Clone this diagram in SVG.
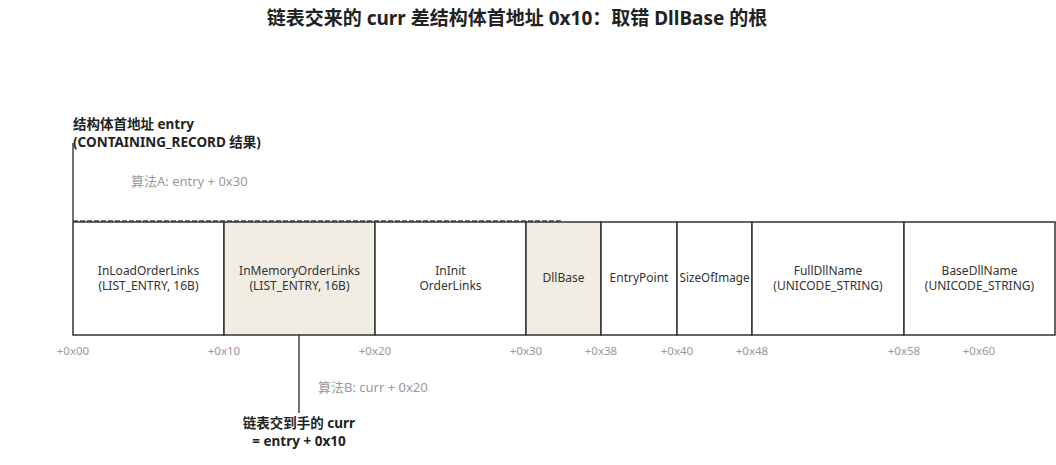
<svg xmlns="http://www.w3.org/2000/svg" width="1056" height="465" viewBox="0 0 1056 465">
<style>
text{font-family:"Noto Sans","Noto Sans CJK SC",sans-serif;}
.title{font-size:19px;font-weight:bold;fill:#222;}
.lbl{font-size:13.5px;font-weight:bold;fill:#222;}
.note{font-size:13px;fill:#999;}
.off{font-size:11.5px;fill:#999;text-anchor:middle;}
.cell{stroke:#333;stroke-width:1.5;fill:#fff;}
.hl{fill:#f2ede3;}
.ct{font-size:12px;fill:#333;text-anchor:middle;}
.ln{stroke:#444;stroke-width:1.5;fill:none;}
</style>
<rect width="1056" height="465" fill="#fff"/>
<text class="title" x="517" y="25" text-anchor="middle">链表交来的 curr 差结构体首地址 0x10：取错 DllBase 的根</text>

<g id="connectors">
<path class="ln" d="M73,143 V221"/>
<path class="ln" d="M73,221 H563" stroke-dasharray="5,2"/>
<path class="ln" d="M299,335 V413"/>
</g>

<g id="entry-label">
<text class="lbl" x="73" y="129">结构体首地址 entry</text>
<text class="lbl" x="73" y="147">(CONTAINING_RECORD 结果)</text>
<text class="note" x="131" y="186">算法A: entry + 0x30</text>
</g>

<g id="InLoadOrderLinks"><rect class="cell" x="73" y="222" width="151" height="113"/>
<text class="ct" x="148.5" y="275">InLoadOrderLinks</text><text class="ct" x="148.5" y="290">(LIST_ENTRY, 16B)</text></g>
<g id="InMemoryOrderLinks"><rect class="cell hl" x="224" y="222" width="151" height="113"/>
<text class="ct" x="299.5" y="275">InMemoryOrderLinks</text><text class="ct" x="299.5" y="290">(LIST_ENTRY, 16B)</text></g>
<g id="InInitOrderLinks"><rect class="cell" x="375" y="222" width="151" height="113"/>
<text class="ct" x="450.5" y="275">InInit</text><text class="ct" x="450.5" y="290">OrderLinks</text></g>
<g id="DllBase"><rect class="cell hl" x="526" y="222" width="75" height="113"/>
<text class="ct" x="563.5" y="282">DllBase</text></g>
<g id="EntryPoint"><rect class="cell" x="601" y="222" width="76" height="113"/>
<text class="ct" x="639" y="282">EntryPoint</text></g>
<g id="SizeOfImage"><rect class="cell" x="677" y="222" width="75" height="113"/>
<text class="ct" x="714.5" y="282" textLength="70" lengthAdjust="spacingAndGlyphs">SizeOfImage</text></g>
<g id="FullDllName"><rect class="cell" x="752" y="222" width="152" height="113"/>
<text class="ct" x="828" y="275">FullDllName</text><text class="ct" x="828" y="290">(UNICODE_STRING)</text></g>
<g id="BaseDllName"><rect class="cell" x="904" y="222" width="151" height="113"/>
<text class="ct" x="979.5" y="275">BaseDllName</text><text class="ct" x="979.5" y="290">(UNICODE_STRING)</text></g>

<g id="offsets">
<text class="off" x="73" y="355">+0x00</text>
<text class="off" x="224" y="355">+0x10</text>
<text class="off" x="375" y="355">+0x20</text>
<text class="off" x="526" y="355">+0x30</text>
<text class="off" x="601" y="355">+0x38</text>
<text class="off" x="677" y="355">+0x40</text>
<text class="off" x="752" y="355">+0x48</text>
<text class="off" x="904" y="355">+0x58</text>
<text class="off" x="979" y="355">+0x60</text>
</g>

<g id="curr-label">
<text class="note" x="318" y="392">算法B: curr + 0x20</text>
<text class="lbl" x="299" y="428" text-anchor="middle">链表交到手的 curr</text>
<text class="lbl" x="299" y="446" text-anchor="middle">= entry + 0x10</text>
</g>
</svg>
